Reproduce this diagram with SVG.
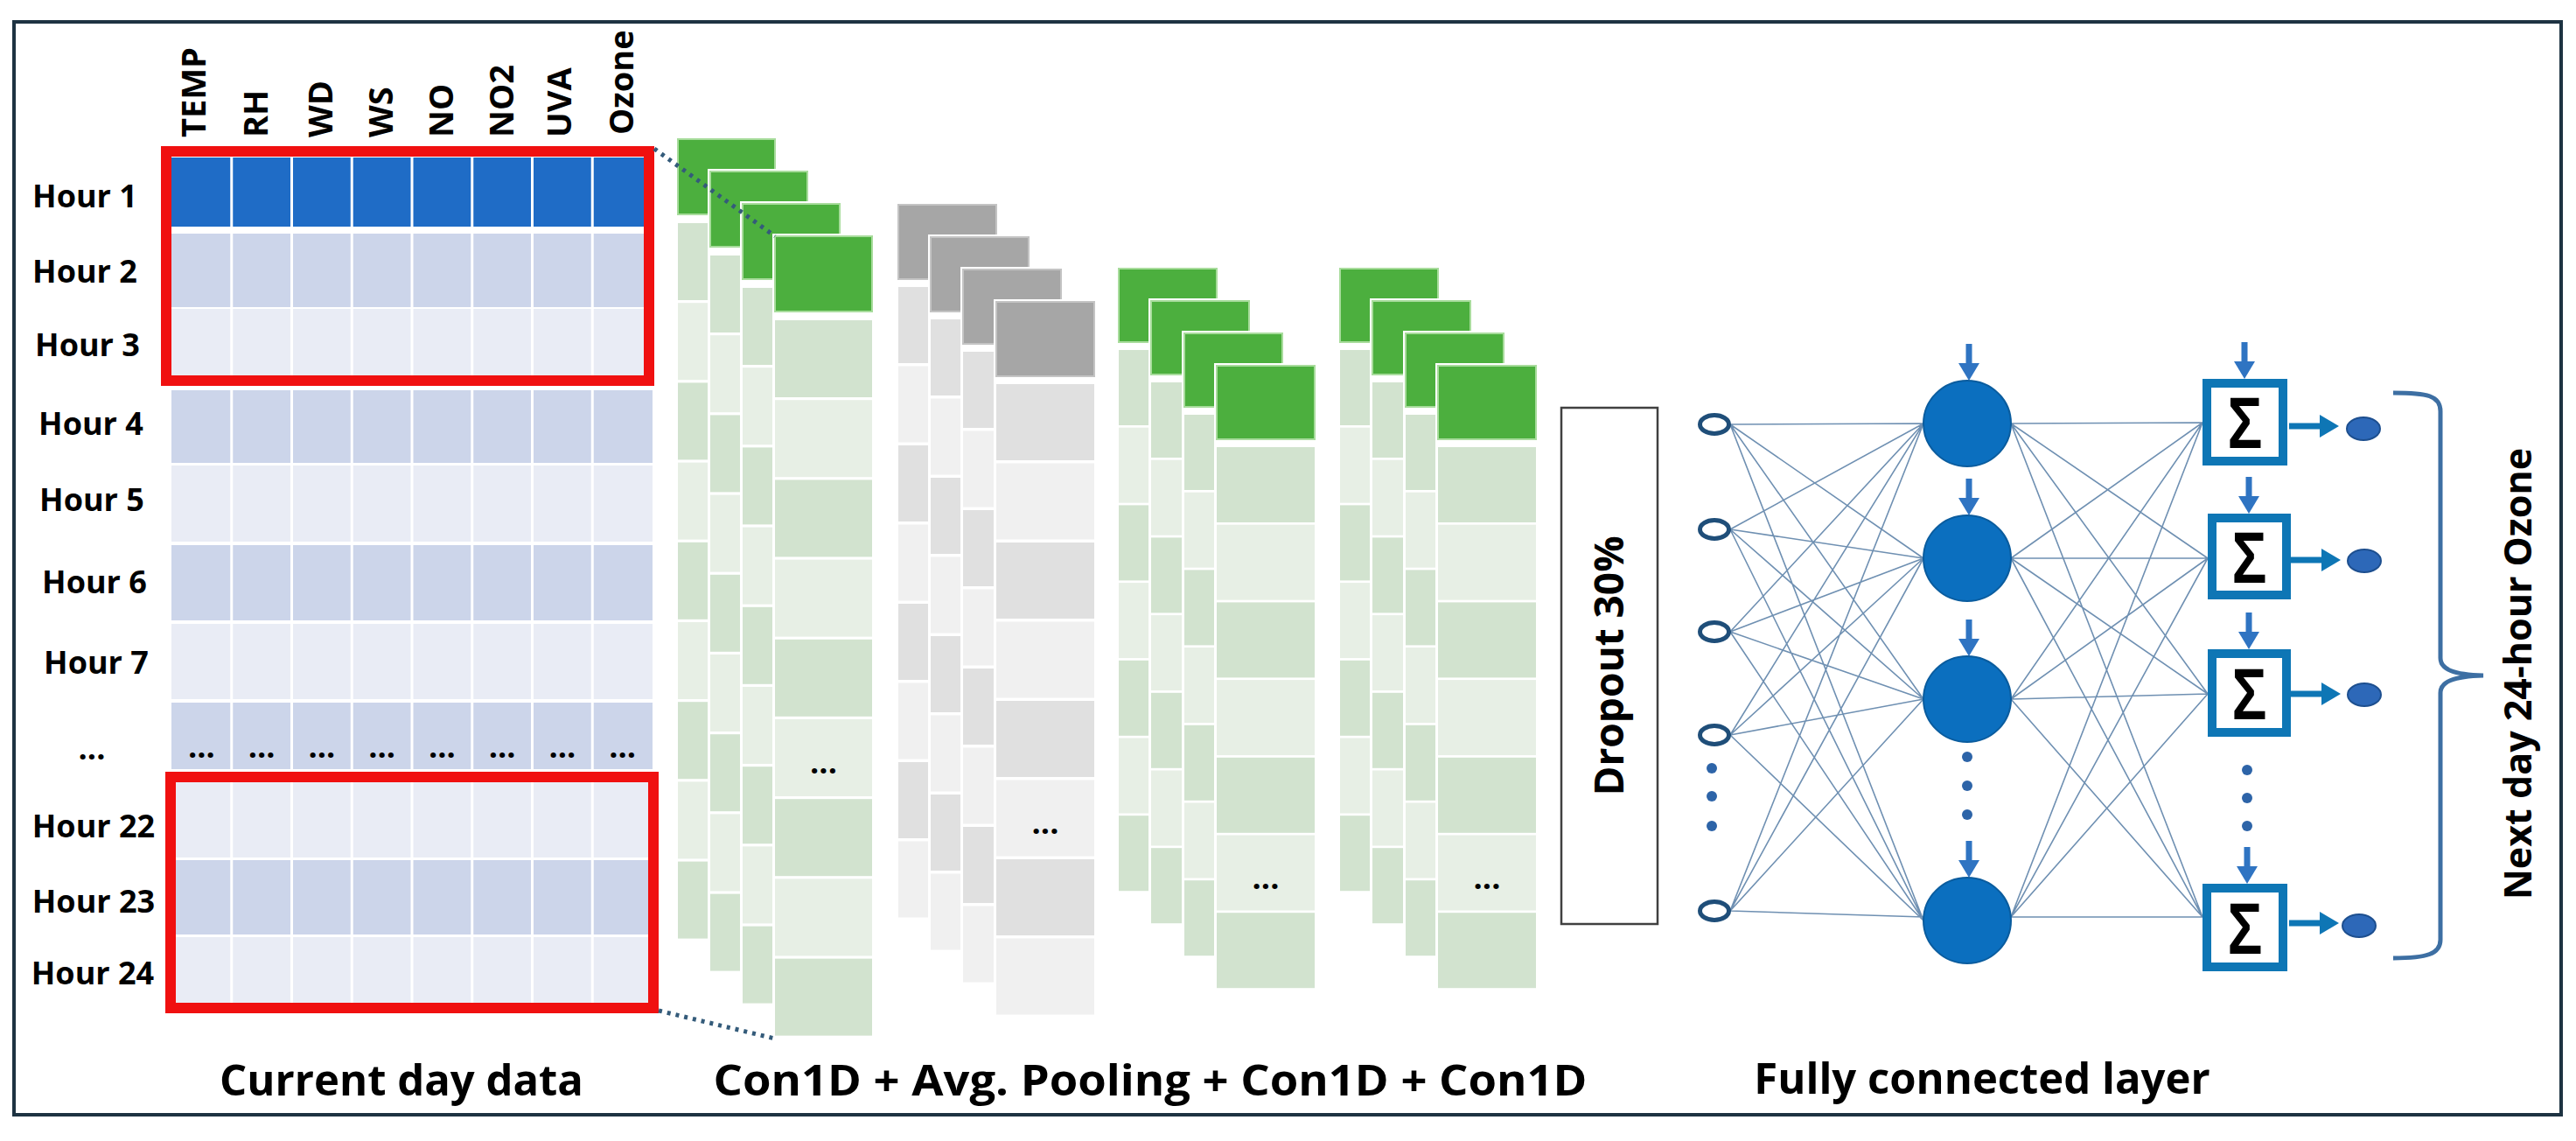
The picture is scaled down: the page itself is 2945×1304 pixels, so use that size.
<svg xmlns="http://www.w3.org/2000/svg" xmlns:xlink="http://www.w3.org/1999/xlink" width="2945" height="1304" viewBox="0 0 2945 1304">
<style>
.t{font-family:"Open Sans","Liberation Sans",sans-serif;font-weight:bold;fill:#000}
.hr{font-size:36px;text-anchor:middle}
.hd{font-size:38px}
.dt{font-size:36px;text-anchor:middle}
.lb{font-size:49px;text-anchor:middle}
.gh{fill:#4caf3e;stroke:#a8dc9c;stroke-width:2}
.gd{fill:#d2e3cf}
.gl{fill:#e7efe5}
.ph{fill:#a6a6a6;stroke:#c4c4c4;stroke-width:2}
.pd{fill:#e0e0e0}
.pl{fill:#f0f0f0}
.fc{stroke:#6f90b2;stroke-width:1.6;fill:none}
.dl{stroke:#345b7a;stroke-width:5;stroke-dasharray:4 6;fill:none}
.in{fill:#fff;stroke:#1f4e79;stroke-width:5}
.hn{fill:#0b6fbf;stroke:#0a5c9e;stroke-width:2}
.sb{fill:#fff;stroke:#0e76b5;stroke-width:10}
.od{fill:#2d68b8;stroke:#1d4f8f;stroke-width:2}
.dot{fill:#2d64a8}
.sg{font-family:"Liberation Sans",sans-serif;font-weight:bold;font-size:84px;text-anchor:middle;fill:#000}
</style>
<defs>
<g id="colG9">
<rect x="-3" y="-3" width="117" height="920" fill="#fff"/>
<rect x="0" y="0" width="111" height="86" class="gh"/>
<rect x="0" y="96" width="111" height="88" class="gd"/>
<rect x="0" y="187.2" width="111" height="88" class="gl"/>
<rect x="0" y="278.4" width="111" height="88" class="gd"/>
<rect x="0" y="369.6" width="111" height="88" class="gl"/>
<rect x="0" y="460.8" width="111" height="88" class="gd"/>
<rect x="0" y="552" width="111" height="88" class="gl"/>
<rect x="0" y="643.2" width="111" height="88" class="gd"/>
<rect x="0" y="734.4" width="111" height="88" class="gl"/>
<rect x="0" y="825.6" width="111" height="88" class="gd"/>
</g>
<g id="colP8">
<rect x="-3" y="-3" width="118" height="821" fill="#fff"/>
<rect x="0" y="0" width="112" height="85" class="ph"/>
<rect x="0" y="94" width="112" height="87" class="pd"/>
<rect x="0" y="184.5" width="112" height="87" class="pl"/>
<rect x="0" y="275" width="112" height="87" class="pd"/>
<rect x="0" y="365.5" width="112" height="87" class="pl"/>
<rect x="0" y="456" width="112" height="87" class="pd"/>
<rect x="0" y="546.5" width="112" height="87" class="pl"/>
<rect x="0" y="637" width="112" height="87" class="pd"/>
<rect x="0" y="727.5" width="112" height="87" class="pl"/>
</g>
<g id="colG7">
<rect x="-3" y="-3" width="118" height="717" fill="#fff"/>
<rect x="0" y="0" width="112" height="84" class="gh"/>
<rect x="0" y="93" width="112" height="86" class="gd"/>
<rect x="0" y="181.7" width="112" height="86" class="gl"/>
<rect x="0" y="270.4" width="112" height="86" class="gd"/>
<rect x="0" y="359.1" width="112" height="86" class="gl"/>
<rect x="0" y="447.8" width="112" height="86" class="gd"/>
<rect x="0" y="536.5" width="112" height="86" class="gl"/>
<rect x="0" y="625.2" width="112" height="86" class="gd"/>
</g>
<g id="va" fill="#2f74c2"><rect x="-3.5" y="-42" width="7" height="24"/><polygon points="-12,-20 12,-20 0,0"/></g>
<g id="ha" fill="#0e76b5"><rect x="-57" y="-3.5" width="37" height="7"/><polygon points="-22,-13 -22,13 0,0"/></g>
</defs>
<rect width="2945" height="1304" fill="#fff"/>
<rect id="frame" x="16" y="25" width="2912" height="1249" fill="none" stroke="#1e3342" stroke-width="4"/>

<g id="table">
<rect x="196" y="180" width="550" height="79" fill="#1f6cc6"/>
<rect x="196" y="267" width="550" height="84" fill="#ccd5ea"/>
<rect x="196" y="353" width="550" height="88" fill="#e9ecf5"/>
<rect x="196" y="446" width="550" height="83" fill="#ccd5ea"/>
<rect x="196" y="532" width="550" height="87" fill="#e9ecf5"/>
<rect x="196" y="623" width="550" height="86" fill="#ccd5ea"/>
<rect x="196" y="713" width="550" height="86" fill="#e9ecf5"/>
<rect x="196" y="803" width="550" height="76" fill="#ccd5ea"/>
<rect x="196" y="884" width="550" height="96" fill="#e9ecf5"/>
<rect x="196" y="983" width="550" height="85" fill="#ccd5ea"/>
<rect x="196" y="1071" width="550" height="80" fill="#e9ecf5"/>
<g stroke="#fff" stroke-width="3">
<line x1="264.75" y1="178" x2="264.75" y2="1152"/>
<line x1="333.5" y1="178" x2="333.5" y2="1152"/>
<line x1="402.25" y1="178" x2="402.25" y2="1152"/>
<line x1="471" y1="178" x2="471" y2="1152"/>
<line x1="539.75" y1="178" x2="539.75" y2="1152"/>
<line x1="608.5" y1="178" x2="608.5" y2="1152"/>
<line x1="677.25" y1="178" x2="677.25" y2="1152"/>
</g>
<g class="t dt">
<text x="230.4" y="866">...</text><text x="299.1" y="866">...</text><text x="367.9" y="866">...</text><text x="436.6" y="866">...</text>
<text x="505.4" y="866">...</text><text x="574.1" y="866">...</text><text x="642.9" y="866">...</text><text x="711.6" y="866">...</text>
</g>
<rect x="190" y="173" width="552" height="262" fill="none" stroke="#f01010" stroke-width="12"/>
<rect x="195" y="888" width="552" height="264" fill="none" stroke="#f01010" stroke-width="12"/>
<g class="t hd">
<text transform="translate(235,157) rotate(-90)">TEMP</text>
<text transform="translate(306,157) rotate(-90)">RH</text>
<text transform="translate(380,157) rotate(-90)">WD</text>
<text transform="translate(449,157) rotate(-90)">WS</text>
<text transform="translate(518,157) rotate(-90)">NO</text>
<text transform="translate(587,157) rotate(-90)">NO2</text>
<text transform="translate(653,157) rotate(-90)">UVA</text>
<text transform="translate(724,154) rotate(-90)">Ozone</text>
</g>
<g class="t hr">
<text x="97" y="237">Hour 1</text>
<text x="97" y="323">Hour 2</text>
<text x="100" y="407">Hour 3</text>
<text x="104" y="497">Hour 4</text>
<text x="105" y="584">Hour 5</text>
<text x="108" y="678">Hour 6</text>
<text x="110" y="770">Hour 7</text>
<text x="105" y="868">...</text>
<text x="107" y="957">Hour 22</text>
<text x="107" y="1043">Hour 23</text>
<text x="106" y="1125">Hour 24</text>
</g>
</g>

<g id="conv1">
<use xlink:href="#colG9" x="775" y="159"/>
<use xlink:href="#colG9" x="812" y="196"/>
<use xlink:href="#colG9" x="849" y="233"/>
<use xlink:href="#colG9" x="886" y="270"/>
<text class="t dt" x="941.5" y="884">...</text>
</g>
<g id="pool">
<use xlink:href="#colP8" x="1027" y="234"/>
<use xlink:href="#colP8" x="1064" y="271"/>
<use xlink:href="#colP8" x="1101" y="308"/>
<use xlink:href="#colP8" x="1139" y="345"/>
<text class="t dt" x="1195" y="953">...</text>
</g>
<g id="conv2">
<use xlink:href="#colG7" x="1279" y="307"/>
<use xlink:href="#colG7" x="1316" y="344"/>
<use xlink:href="#colG7" x="1354" y="381"/>
<use xlink:href="#colG7" x="1391" y="418"/>
<text class="t dt" x="1447" y="1016" font-weight="normal">...</text>
</g>
<g id="conv3">
<use xlink:href="#colG7" x="1532" y="307"/>
<use xlink:href="#colG7" x="1569" y="344"/>
<use xlink:href="#colG7" x="1607" y="381"/>
<use xlink:href="#colG7" x="1644" y="418"/>
<text class="t dt" x="1700" y="1016" font-weight="normal">...</text>
</g>

<g id="dropout">
<rect x="1785" y="466" width="110" height="590" fill="#fff" stroke="#404040" stroke-width="2.5"/>
<text class="t" font-size="46" text-anchor="middle" transform="translate(1856,761) rotate(-90)">Dropout 30%</text>
</g>

<g id="connectors">
<line x1="748" y1="170" x2="886" y2="270" class="dl"/>
<line x1="753" y1="1155" x2="886" y2="1187" class="dl"/>
<path class="fc" d="M1978 485L2199 484M1978 485L2199 638M1978 485L2199 799M1978 485L2199 1052
M1978 605L2199 484M1978 605L2199 638M1978 605L2199 799M1978 605L2199 1052
M1978 722L2199 484M1978 722L2199 638M1978 722L2199 799M1978 722L2199 1052
M1978 840L2199 484M1978 840L2199 638M1978 840L2199 799M1978 840L2199 1052
M1978 1041L2199 484M1978 1041L2199 638M1978 1041L2199 799M1978 1041L2199 1048
M2299 484L2518 483M2299 484L2524 638M2299 484L2524 793M2299 484L2518 1048
M2299 638L2518 483M2299 638L2524 638M2299 638L2524 793M2299 638L2518 1048
M2299 799L2518 483M2299 799L2524 638M2299 799L2524 793M2299 799L2518 1048
M2299 1048L2518 483M2299 1048L2524 638M2299 1048L2524 793M2299 1048L2518 1048"/>
<use xlink:href="#va" x="2251" y="435"/>
<use xlink:href="#va" x="2251" y="589"/>
<use xlink:href="#va" x="2251" y="750"/>
<use xlink:href="#va" x="2251" y="1003"/>
<use xlink:href="#va" x="2566" y="433"/>
<use xlink:href="#va" x="2571" y="587"/>
<use xlink:href="#va" x="2571" y="742"/>
<use xlink:href="#va" x="2569" y="1010"/>
<use xlink:href="#ha" x="2674" y="487"/>
<use xlink:href="#ha" x="2676" y="640"/>
<use xlink:href="#ha" x="2676" y="793"/>
<use xlink:href="#ha" x="2674" y="1055"/>
</g>

<g id="inputs">
<ellipse class="in" cx="1960" cy="485" rx="16.5" ry="10.5"/>
<ellipse class="in" cx="1960" cy="605" rx="16.5" ry="10.5"/>
<ellipse class="in" cx="1960" cy="722" rx="16.5" ry="10.5"/>
<ellipse class="in" cx="1960" cy="840" rx="16.5" ry="10.5"/>
<ellipse class="in" cx="1960" cy="1041" rx="16.5" ry="10.5"/>
<circle class="dot" cx="1957" cy="878" r="6"/>
<circle class="dot" cx="1957" cy="910" r="6"/>
<circle class="dot" cx="1957" cy="944" r="6"/>
</g>
<g id="hidden">
<ellipse class="hn" cx="2249" cy="484" rx="50" ry="49"/>
<ellipse class="hn" cx="2249" cy="638" rx="50" ry="49"/>
<ellipse class="hn" cx="2249" cy="799" rx="50" ry="49"/>
<ellipse class="hn" cx="2249" cy="1052" rx="50" ry="49"/>
<circle class="dot" cx="2249" cy="865" r="6"/>
<circle class="dot" cx="2249" cy="898" r="6"/>
<circle class="dot" cx="2249" cy="931" r="6"/>
</g>
<g id="sums">
<rect class="sb" x="2523" y="438" width="87" height="89"/>
<rect class="sb" x="2529" y="592" width="85" height="88"/>
<rect class="sb" x="2529" y="747" width="85" height="90"/>
<rect class="sb" x="2523" y="1015" width="87" height="90"/>
<text class="sg" x="2566.5" y="512" textLength="40" lengthAdjust="spacingAndGlyphs">Σ</text>
<text class="sg" x="2571.5" y="666" textLength="40" lengthAdjust="spacingAndGlyphs">Σ</text>
<text class="sg" x="2571.5" y="822" textLength="40" lengthAdjust="spacingAndGlyphs">Σ</text>
<text class="sg" x="2566.5" y="1090" textLength="40" lengthAdjust="spacingAndGlyphs">Σ</text>
<circle class="dot" cx="2569" cy="880" r="6"/>
<circle class="dot" cx="2569" cy="912" r="6"/>
<circle class="dot" cx="2569" cy="944" r="6"/>
</g>
<g id="outputs">
<ellipse class="od" cx="2702" cy="490" rx="19" ry="13"/>
<ellipse class="od" cx="2703" cy="641" rx="19" ry="13"/>
<ellipse class="od" cx="2703" cy="794" rx="19" ry="13"/>
<ellipse class="od" cx="2697" cy="1058" rx="19" ry="13"/>
</g>
<g id="brace">
<path d="M2736,449 C2775,449 2790,452 2790,470 L2790,752 C2790,765 2805,771 2839,772 C2805,773 2790,779 2790,792 L2790,1074 C2790,1090 2775,1095 2736,1095" fill="none" stroke="#3d6fa3" stroke-width="5"/>
<text class="t" font-size="43" text-anchor="middle" transform="translate(2894,770) rotate(-90)">Next day 24-hour Ozone</text>
</g>

<g id="captions" class="t lb">
<text x="459" y="1252">Current day data</text>
<text x="1315" y="1252" textLength="999" lengthAdjust="spacingAndGlyphs">Con1D + Avg. Pooling + Con1D + Con1D</text>
<text x="2266" y="1250">Fully connected layer</text>
</g>
</svg>
